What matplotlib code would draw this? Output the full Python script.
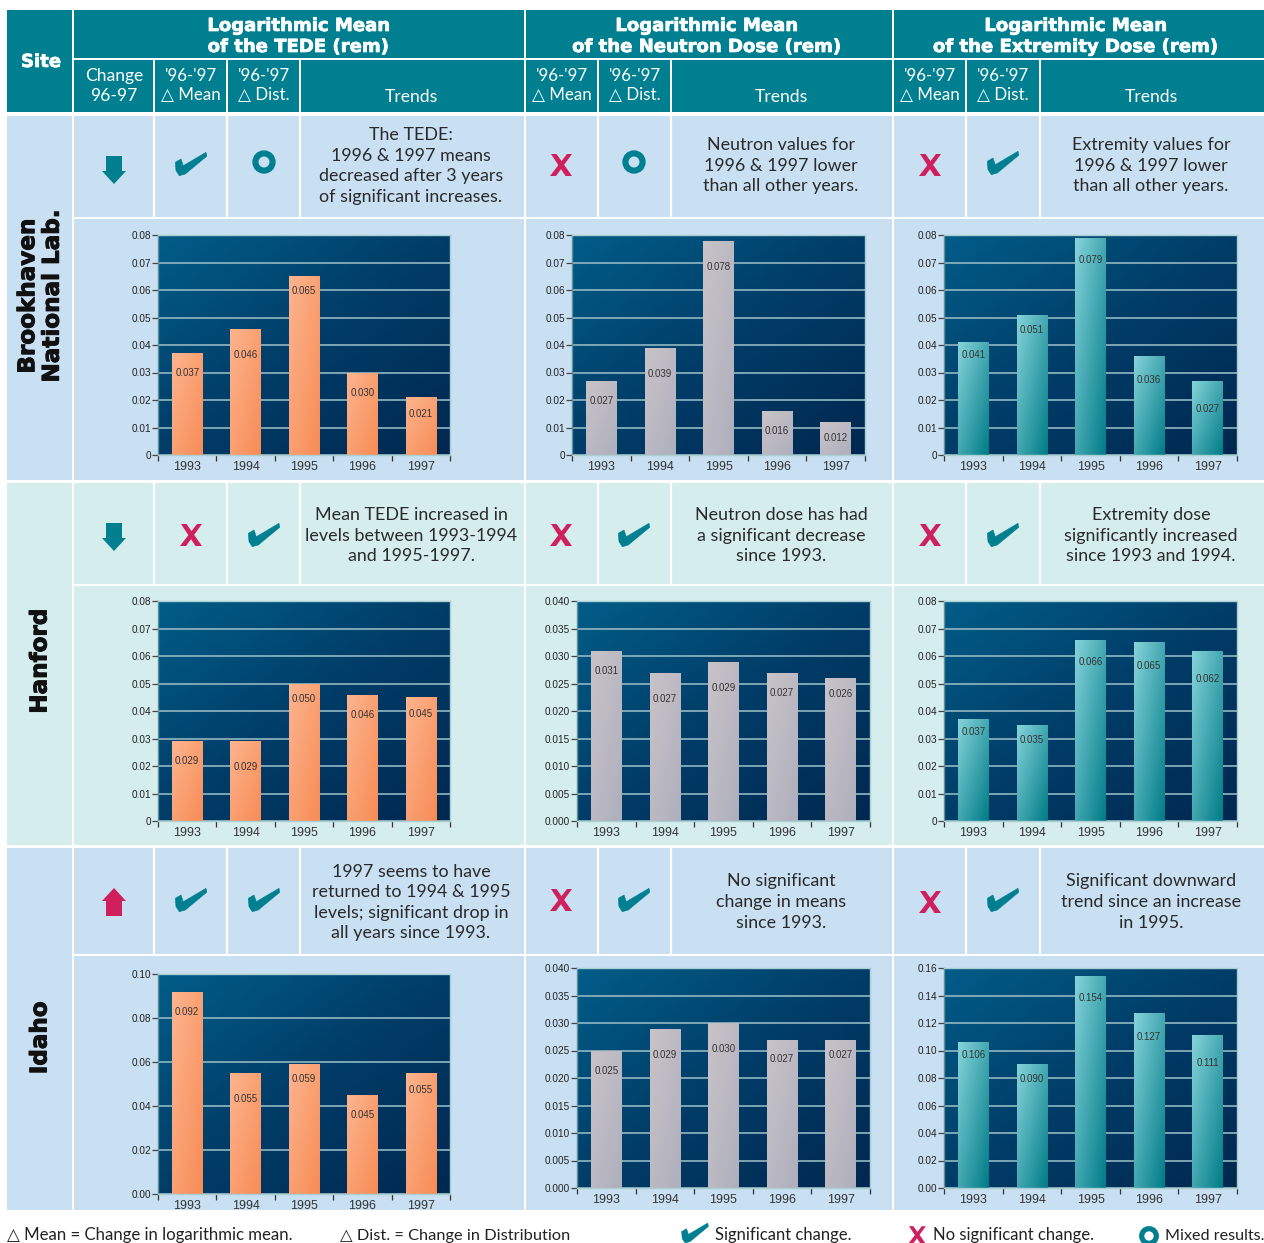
import numpy as np
import matplotlib
matplotlib.use("Agg")
import matplotlib.pyplot as plt
import matplotlib.patheffects as pe
from matplotlib.colors import LinearSegmentedColormap
from matplotlib.patches import Polygon, Circle, Rectangle

W, H = 1264, 1243
TEAL = '#007f91'
RED = '#cf1f5c'
BLUE_BG = '#c9dff2'
AQUA_BG = '#d6edee'
BODY = ['Lato', 'DejaVu Sans']
CHART = 'Liberation Sans'

years = ['1993', '1994', '1995', '1996', '1997']

# values per site, per column
tede_bnl = [0.037, 0.046, 0.065, 0.030, 0.021]
neutron_bnl = [0.027, 0.039, 0.078, 0.016, 0.012]
extremity_bnl = [0.041, 0.051, 0.079, 0.036, 0.027]
tede_han = [0.029, 0.029, 0.050, 0.046, 0.045]
neutron_han = [0.031, 0.027, 0.029, 0.027, 0.026]
extremity_han = [0.037, 0.035, 0.066, 0.065, 0.062]
tede_ida = [0.092, 0.055, 0.059, 0.045, 0.055]
neutron_ida = [0.025, 0.029, 0.030, 0.027, 0.027]
extremity_ida = [0.106, 0.090, 0.154, 0.127, 0.111]

# y scales
ticks_08 = [0, 0.01, 0.02, 0.03, 0.04, 0.05, 0.06, 0.07, 0.08]
ticks_04 = [0.000, 0.005, 0.010, 0.015, 0.020, 0.025, 0.030, 0.035, 0.040]
ticks_10 = [0.00, 0.02, 0.04, 0.06, 0.08, 0.10]
ticks_16 = [0.00, 0.02, 0.04, 0.06, 0.08, 0.10, 0.12, 0.14, 0.16]

# status symbols: down/up arrow, check, x, o
status_bnl = ['down', 'check', 'o', 'x', 'o', 'x', 'check']
status_han = ['down', 'x', 'check', 'x', 'check', 'x', 'check']
status_ida = ['up', 'check', 'check', 'x', 'check', 'x', 'check']

trends_bnl = ["The TEDE:\n1996 & 1997 means\ndecreased after 3 years\nof significant increases.",
              "Neutron values for\n1996 & 1997 lower\nthan all other years.",
              "Extremity values for\n1996 & 1997 lower\nthan all other years."]
trends_han = ["Mean TEDE increased in\nlevels between 1993-1994\nand 1995-1997.",
              "Neutron dose has had\na significant decrease\nsince 1993.",
              "Extremity dose\nsignificantly increased\nsince 1993 and 1994."]
trends_ida = ["1997 seems to have\nreturned to 1994 & 1995\nlevels; significant drop in\nall years since 1993.",
              "No significant\nchange in means\nsince 1993.",
              "Significant downward\ntrend since an increase\nin 1995."]

heads = ["of the TEDE (rem)", "of the Neutron Dose (rem)", "of the Extremity Dose (rem)"]

fig = plt.figure(figsize=(W / 100, H / 100), dpi=100, facecolor='white')
bg = fig.add_axes([0, 0, 1, 1])
bg.set_xlim(0, W)
bg.set_ylim(H, 0)
bg.axis('off')


def box(x0, y0, x1, y1, color):
    bg.add_patch(Rectangle((x0, y0), x1 - x0, y1 - y0, fc=color, ec='none'))


def sym(kind, cx, cy, s=1.0):
    if kind == 'check':
        p = np.array([[-15.7, -1.7], [-10, -5], [-7.7, 1.7], [15, -11.7], [15.7, -7.7],
                      [-5.7, 10], [-11.7, 11.7], [-15, 6.7]], float)
        bg.add_patch(Polygon(p * s + [cx, cy], fc=TEAL, ec=TEAL, lw=0.4, joinstyle='round'))
    elif kind == 'x':
        a = np.array([[-10, -11], [-4.5, -11], [11, 11], [4.5, 11]], float)
        b = np.array([[6, -11], [11, -11], [-5, 11], [-11, 11]], float)
        bg.add_patch(Polygon(a * s + [cx, cy], fc=RED, ec='none'))
        bg.add_patch(Polygon(b * s + [cx, cy], fc=RED, ec='none'))
    elif kind == 'o':
        bg.add_patch(Circle((cx, cy), 8.6 * s, fc='none', ec=TEAL, lw=4.4 * s))
    else:
        d = 1 if kind == 'down' else -1
        color = TEAL if kind == 'down' else RED
        p = np.array([[-8, -14], [8, -14], [8, 1], [12, 1], [0, 14], [-12, 1], [-8, 1]], float)
        p[:, 1] *= d
        bg.add_patch(Polygon(p * s + [cx, cy], fc=color, ec='none'))


def lines(text, cx, base, step=20.6, size=12.85, color='#2a2a2a'):
    rows = text.split('\n')
    for i, r in enumerate(rows):
        y = base + (i - (len(rows) - 1) / 2) * step
        bg.text(cx, y, r, ha='center', va='baseline', fontsize=size, family=BODY, color=color)


def bold(x, y, txt, size=13.0, color='white', **kw):
    bg.text(x, y, txt, ha='center', va='center', fontsize=size, fontweight='bold', color=color,
            family='DejaVu Sans', path_effects=[pe.withStroke(linewidth=0.5, foreground=color)], **kw)


# header band
box(7, 10, 72, 112, TEAL)
col_spans = [(74, 524), (526, 892), (894, 1264)]
subcols = [[74, 154, 227, 300, 524], [526, 598, 671, 892], [894, 966, 1040, 1264]]
head_x = [298, 706, 1075]
for (x0, x1), sub, head, cx in zip(col_spans, subcols, heads, head_x):
    box(x0, 10, x1, 58, TEAL)
    for a, b in zip(sub[:-1], sub[1:]):
        box(a + 1 if a != x0 else a, 60, b - 1 if b != x1 else b, 112, TEAL)
    bold(cx, 26, "Logarithmic Mean")
    bold(cx, 47, head)
bold(41, 62, "Site")

# sub header text
lines("Change\n96-97", 114, 91, 20, 12.6, 'white')
for cm, cd, ct in [(191, 264, 411), (562, 635, 781), (930, 1003, 1151)]:
    lines("'96-'97\n△ Mean", cm, 90.5, 19, 12.2, 'white')
    lines("'96-'97\n△ Dist.", cd, 90.5, 19, 12.2, 'white')
    bg.text(ct, 102, "Trends", ha='center', va='baseline', fontsize=12.6, family=BODY, color='white')

# site rows
rows = [
    dict(top=116, sep=218, bottom=480, color=BLUE_BG, site="Brookhaven\nNational Lab.", sy=296.5,
         status=status_bnl, sy_status=[170, 164, 162, 165, 162, 165, 163],
         trends=trends_bnl, tbase=[171, 170.5, 170.5],
         data=[tede_bnl, neutron_bnl, extremity_bnl],
         ticks=[ticks_08, ticks_08, ticks_08], fmt=[2, 2, 2], ax_y=[(235, 455)] * 3,
         ax_x=[(158, 450), (572, 865), (944, 1237)]),
    dict(top=483, sep=585, bottom=845, color=AQUA_BG, site="Hanford", sy=661.5,
         status=status_han, sy_status=[537, 535, 535, 535, 535, 535, 535],
         trends=trends_han, tbase=[540.5, 540.5, 540.5],
         data=[tede_han, neutron_han, extremity_han],
         ticks=[ticks_08, ticks_04, ticks_08], fmt=[2, 3, 2], ax_y=[(601, 821)] * 3,
         ax_x=[(158, 450), (577, 870), (944, 1237)]),
    dict(top=848, sep=955, bottom=1210, color=BLUE_BG, site="Idaho", sy=1038,
         status=status_ida, sy_status=[902, 900, 900, 900, 900, 902, 900],
         trends=trends_ida, tbase=[907.5, 907, 907],
         data=[tede_ida, neutron_ida, extremity_ida],
         ticks=[ticks_10, ticks_04, ticks_16], fmt=[2, 3, 2], ax_y=[(974, 1194), (968, 1188), (968, 1188)],
         ax_x=[(158, 450), (577, 870), (944, 1237)]),
]
status_x = [114, 191, 264, 561, 634, 930, 1003]
trend_x = [411, 781, 1151]
# how far the value label hangs below the bar top, per column of charts
label_drop = [[20, 26, 15, 20, 17], [20, 26, 26, 20, 16], [13, 15, 22, 24, 28]]

bar_maps = [
    LinearSegmentedColormap.from_list('o', ['#fdb48f', '#f78c55']),
    LinearSegmentedColormap.from_list('g', ['#c9c3c8', '#aeafbd']),
    LinearSegmentedColormap.from_list('t', ['#86d3da', '#007c88']),
]
panel_map = LinearSegmentedColormap.from_list('p', ['#005d88', '#003d68', '#002850'])


def diag(n=64):
    gx, gy = np.meshgrid(np.linspace(0, 1, n), np.linspace(0, 1, n))
    return (gx + gy) / 2


for row in rows:
    box(7, row['top'], 72, row['bottom'] + 0, row['color'])
    for (x0, x1), sub in zip(col_spans, subcols):
        box(x0, row['top'], x1, row['sep'] - 1, row['color'])
        box(x0, row['sep'] + 1, x1, row['bottom'], row['color'])
        for a in sub[1:-1]:
            bg.plot([a, a], [row['top'], row['sep']], color='white', lw=1.6, solid_capstyle='butt')
    bg.text(40, row['sy'], row['site'], rotation=90, ha='center', va='center', multialignment='center',
            fontsize=16.6, fontweight='bold', color='#111111', family='DejaVu Sans', linespacing=1.08,
            path_effects=[pe.withStroke(linewidth=0.7, foreground='#111111')])
    for k, sx, sy in zip(row['status'], status_x, row['sy_status']):
        sym(k, sx, sy)
    for t, tx, b in zip(row['trends'], trend_x, row['tbase']):
        lines(t, tx, b)

    for c in range(3):
        x0, x1 = row['ax_x'][c]
        y0, y1 = row['ax_y'][c]
        ax = fig.add_axes([x0 / W, 1 - y1 / H, (x1 - x0) / W, (y1 - y0) / H])
        ax.patch.set_alpha(0)
        ticks = row['ticks'][c]
        vals = row['data'][c]
        ax.set_xlim(-0.5, 4.5)
        ax.set_ylim(0, ticks[-1])
        ax.imshow(diag(), extent=(-0.5, 4.5, 0, ticks[-1]), aspect='auto', cmap=panel_map, zorder=0, origin='upper')
        ax.grid(axis='y', color='#93b7c3', lw=1.2, zorder=1)
        ax.set_axisbelow(True)
        bars = ax.bar(range(5), vals, width=0.52, color='none', zorder=2)
        for b, v, d in zip(bars, vals, label_drop[c]):
            bx = b.get_x()
            im = ax.imshow(diag(), extent=(bx, bx + b.get_width(), 0, v), aspect='auto',
                           cmap=bar_maps[c], zorder=2, origin='upper')
            im.set_clip_path(b)
            ax.annotate(f"{v:.3f}", (b.get_x() + b.get_width() / 2, v), xytext=(0, -d * 0.72),
                        textcoords='offset points', ha='center', va='center', fontsize=7.0,
                        family=CHART, color='#333333', zorder=4)
        ax.set_xlim(-0.5, 4.5)
        ax.set_ylim(0, ticks[-1])
        ax.set_yticks(ticks)
        fmt = row['fmt'][c]
        labels = [f"{t:.{fmt}f}" for t in ticks]
        if ticks[-1] == 0.08:
            labels[0] = '0'
        ax.set_yticklabels(labels, fontsize=7.2, family=CHART, color='#222222')
        ax.set_xticks(np.arange(-0.5, 5, 1))
        ax.set_xticklabels([])
        ax.set_xticks(range(5), minor=True)
        ax.set_xticklabels(years, minor=True, fontsize=8.9, family=CHART, color='#333333')
        ax.tick_params(axis='x', which='major', length=4, width=0.9, color='#333333', direction='out')
        ax.tick_params(axis='x', which='minor', length=0, pad=4.5)
        ax.tick_params(axis='y', length=4, width=0.9, color='#444444', pad=1)
        for s in ax.spines.values():
            s.set_color('#a9cfd3')
            s.set_linewidth(1.0)
            s.set_zorder(5)
        ax.spines['left'].set_color('#5f8f99')

# footer
foot = [(7, "△ Mean = Change in logarithmic mean.", 12.1), (340, "△ Dist. = Change in Distribution", 11.8),
        (715, "Significant change.", 12.0), (933, "No significant change.", 12.0), (1165, "Mixed results.", 11.6)]
for fx, txt, fs in foot:
    bg.text(fx, 1240, txt, ha='left', va='baseline', fontsize=fs, family=BODY, color='#222222')
sym('check', 695, 1233, 0.85)
sym('x', 917, 1235, 0.8)
sym('o', 1149, 1236, 0.85)

fig.savefig('out.png', dpi=100, facecolor='white')
